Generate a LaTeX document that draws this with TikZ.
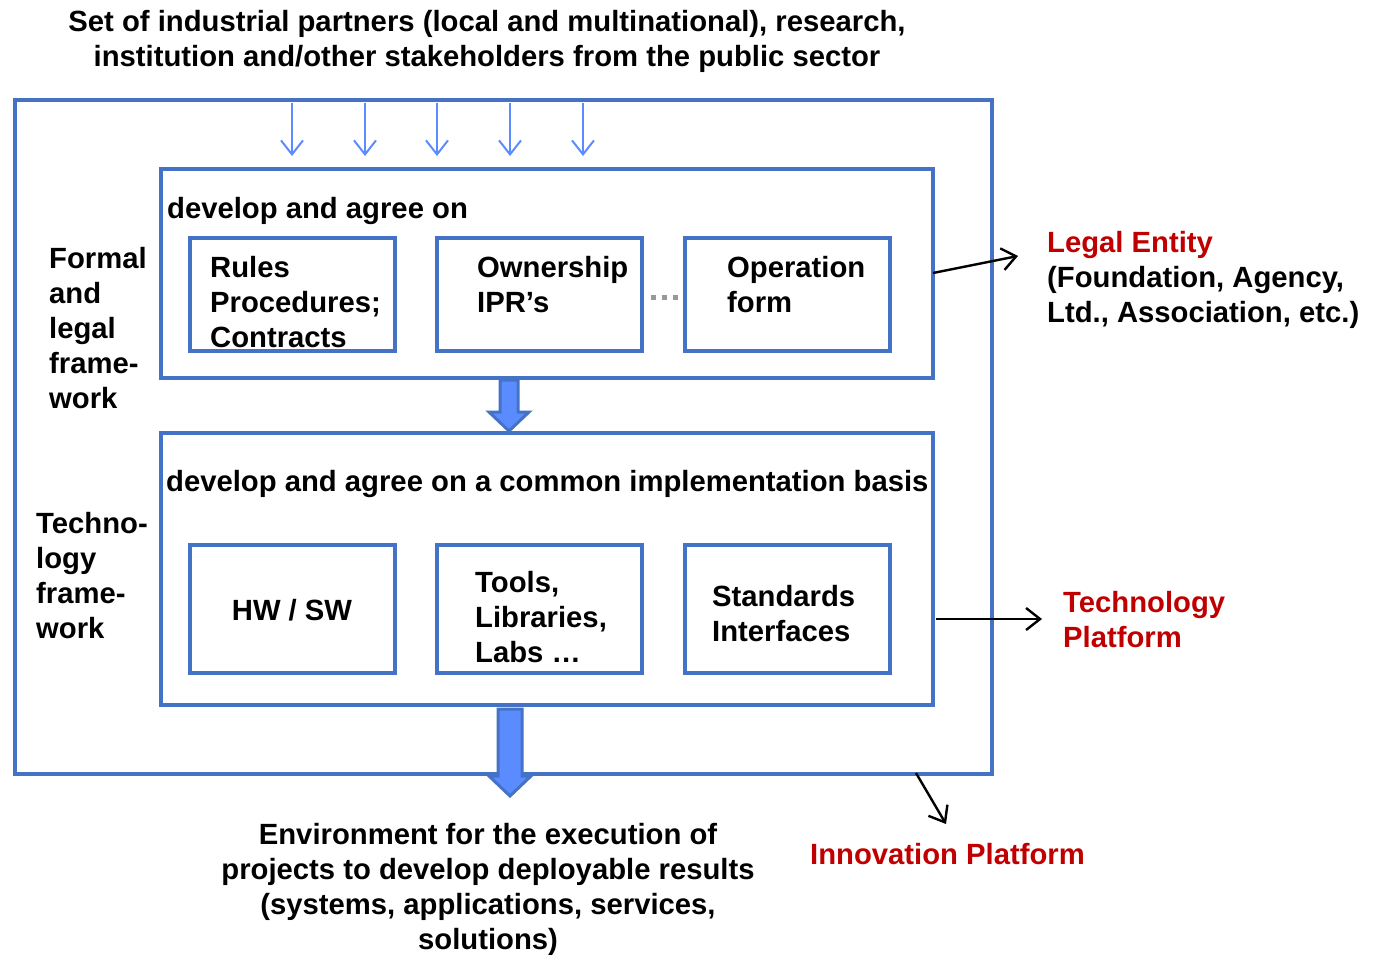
\documentclass[tikz,border=0pt]{standalone}
\usepackage{fontspec}
\setmainfont{Liberation Sans}
\usetikzlibrary{arrows.meta}
\definecolor{boxblue}{RGB}{68,114,196}
\definecolor{lightblue}{RGB}{91,140,255}
\definecolor{darkred}{RGB}{192,0,0}
\newcommand\diagfont{\fontsize{29.25}{35}\selectfont\bfseries}
\tikzset{
  frame/.style={draw=boxblue, line width=4pt, rectangle, inner sep=0pt},
  lbl/.style={font=\diagfont, inner sep=0pt, align=left, anchor=north west},
  clbl/.style={font=\diagfont, inner sep=0pt, align=center, anchor=north},
  thinarrow/.style={draw=lightblue, line width=2pt, -{Straight Barb[length=14pt,width=22pt,line width=2pt]}},
  blackarrow/.style={draw=black, line width=2.4pt, -{Straight Barb[length=14pt,width=22pt,line width=2.4pt]}},
  blockarrow/.style={draw=boxblue, fill=lightblue, line width=3pt, line join=miter},
}
\begin{document}
\begin{tikzpicture}[x=1pt,y=-1pt]
\useasboundingbox (0,0) rectangle (1373,954);

% title
\node[clbl] (title) at (487,7) {\strut Set of industrial partners (local and multinational), research,\\institution and/other stakeholders from the public sector};

% frames
\node[frame, minimum width=977pt, minimum height=674pt] (outer) at (503.5,437) {};
\node[frame, minimum width=772pt, minimum height=209pt] (inner1) at (547,273.5) {};
\node[frame, minimum width=772pt, minimum height=272pt] (inner2) at (547,569) {};

\node[frame, minimum width=205pt, minimum height=113pt] (ra) at (292.5,294.5) {};
\node[frame, minimum width=205pt, minimum height=113pt] (rb) at (539.5,294.5) {};
\node[frame, minimum width=205pt, minimum height=113pt] (rc) at (787.5,294.5) {};

\node[frame, minimum width=205pt, minimum height=128pt] (ta) at (292.5,609) {};
\node[frame, minimum width=205pt, minimum height=128pt] (tb) at (539.5,609) {};
\node[frame, minimum width=205pt, minimum height=128pt] (tc) at (787.5,609) {};

% top arrows
\foreach \i/\x in {1/292,2/365,3/437,4/510,5/583}{
  \coordinate (a\i) at (\x,103);
  \draw[thinarrow, shorten >=11pt] (a\i) -- (a\i |- inner1.north);
}

% dots between boxes
\coordinate (d1) at (651,297.5);
\coordinate (d2) at (678,297.5);
\draw[gray!80, line width=5pt, dash pattern=on 5pt off 6pt] (d1) -- (d2);

% texts in inner boxes
\node[lbl] (dev1) at (167,194) {\strut develop and agree on};
\node[lbl] (dev2) at (166,467) {\strut develop and agree on a common implementation basis};

\node[lbl] (rules) at (210,253) {\strut Rules\\Procedures;\\Contracts};
\node[lbl] (own) at (477,253) {\strut Ownership\\IPR’s};
\node[lbl] (oper) at (727,253) {\strut Operation\\form};

\node[font=\diagfont, inner sep=0pt] (hwsw) at (292,610) {HW / SW};
\node[lbl] (tools) at (475,568) {\strut Tools,\\Libraries,\\Labs …};
\node[lbl] (std) at (712,582) {\strut Standards\\Interfaces};

% left labels
\node[lbl] (formal) at (49,244) {\strut Formal\\and\\legal\\frame-\\work};
\node[lbl] (techno) at (36,509) {\strut Techno-\\logy\\frame-\\work};

% block arrows
\draw[blockarrow] (500,380) -- (518,380) -- (518,412) -- (529,412) -- (509,431) -- (489,412) -- (500,412) -- cycle;
\draw[blockarrow] (498,709) -- (522,709) -- (522,776) -- (531,776) -- (510,796) -- (489,776) -- (498,776) -- cycle;

% right side labels
\node[lbl] (legal) at (1047,228) {\strut\textcolor{darkred}{Legal Entity}\\(Foundation, Agency,\\Ltd., Association, etc.)};
\node[lbl, text=darkred] (techp) at (1063,588) {\strut Technology\\Platform};
\node[lbl, text=darkred] (innov) at (810,840) {\strut Innovation Platform};

\coordinate (le1) at (933,273);
\coordinate (le2) at (1018,256);
\draw[blackarrow] (le1) -- (le2);
\coordinate (tp1) at (936,619);
\coordinate (tp2) at (1042,619);
\draw[blackarrow] (tp1) -- (tp2);
\coordinate (ip1) at (916,773);
\coordinate (ip2) at (946,824);
\draw[blackarrow] (ip1) -- (ip2);

% bottom text
\node[clbl] (env) at (488,820) {\strut Environment for the execution of\\projects to develop deployable results\\(systems, applications, services,\\solutions)};
\end{tikzpicture}
\end{document}
